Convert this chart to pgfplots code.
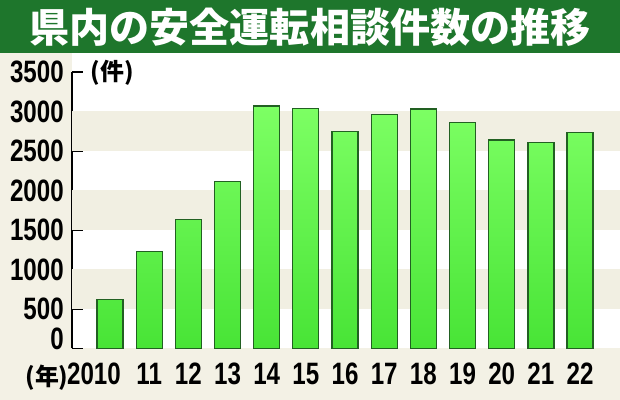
\documentclass[border=0pt]{standalone}
\usepackage{pgfplots}
\pgfplotsset{compat=1.18}
\usepackage{fontspec}
\newfontfamily\cjk{Noto Sans CJK JP}
\newfontfamily\numfont{Liberation Sans}[FakeStretch=0.78]

\definecolor{bgbeige}{RGB}{243,241,229}
\definecolor{stripe}{RGB}{241,239,226}
\definecolor{titlegreen}{RGB}{30,118,44}
\definecolor{bartop}{RGB}{125,255,100}
\definecolor{barbot}{RGB}{72,228,54}
\definecolor{baredge}{RGB}{34,96,34}

\begin{document}
\begin{tikzpicture}
% 1px = 0.025cm, picture 620x400 px
\path[use as bounding box] (0,0) rectangle (15.5,10);
\fill[bgbeige] (0,0) rectangle (15.5,10);
\fill[white] (1.8,1.2875) rectangle (15.5,8.675);
\fill[titlegreen] (0,8.675) rectangle (15.5,10);
\node[text=white, font=\cjk\bfseries\fontsize{28.5}{28.5}\selectfont] at (7.75,9.33)
  {県内の安全運転相談件数の推移};

\begin{axis}[
    at={(1.8cm,1.2875cm)}, anchor=south west,
    scale only axis,
    width=13.7cm, height=6.9125cm,
    xmin=-0.97, xmax=13.02,
    ymin=0, ymax=3500,
    axis x line*=bottom,
    axis y line*=left,
    x axis line style={draw=none},
    y axis line style={line width=1.4pt, black},
    xtick=data,
    xticklabels={2010\kern0.8cm,11,12,13,14,15,16,17,18,19,20,21,22},
    xtick style={draw=none},
    ytick={500,1000,...,3500},
    extra y ticks={0},
    extra y tick style={yticklabel style={anchor=south east, yshift=-0.05cm}},
    tick align=inside,
    ytick style={line width=1.4pt, black},
    major tick length=0.28cm,
    /pgf/number format/assume math mode=true,
    /pgf/number format/set thousands separator={},
    ticklabel style={font=\numfont\bfseries\fontsize{22}{22}\selectfont},
    yticklabel style={anchor=east, inner sep=0pt, xshift=-0.2cm},
    xticklabel style={anchor=north, inner sep=0pt, yshift=-0.08cm},
    ybar, bar width=0.65cm,
    clip=false,
]
\fill[stripe] (axis cs:-0.97,500) rectangle (axis cs:13.02,1000);
\fill[stripe] (axis cs:-0.97,1500) rectangle (axis cs:13.02,2000);
\fill[stripe] (axis cs:-0.97,2500) rectangle (axis cs:13.02,3000);
\addplot[draw=baredge, line width=0.9pt, top color=bartop, bottom color=barbot]
coordinates {
    (0,620) (1,1230) (2,1630) (3,2110) (4,3070) (5,3040) (6,2750)
    (7,2960) (8,3030) (9,2865) (10,2640) (11,2610) (12,2730)
};
\end{axis}

\node[anchor=west, font=\cjk\bfseries\fontsize{17}{17}\selectfont] at (2.15,8.175) {(件)};
\node[anchor=base east, inner sep=0pt, font=\cjk\bfseries\fontsize{17}{17}\selectfont] at (1.72,0.36) {(年)};
\end{tikzpicture}
\end{document}
